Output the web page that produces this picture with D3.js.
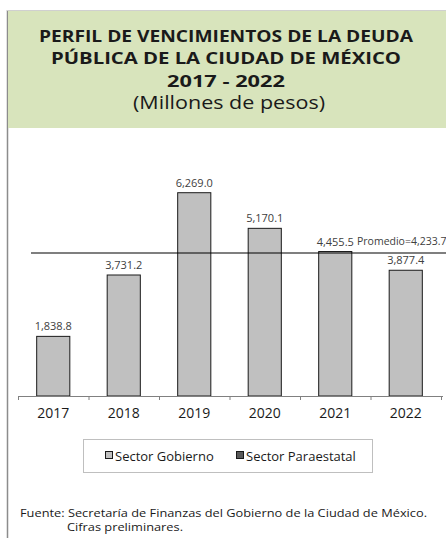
<!DOCTYPE html>
<html>
<head>
<meta charset="utf-8">
<script src="https://cdn.jsdelivr.net/npm/d3@7"></script>
<style>
  body { margin: 0; background: #fff; }
  text { font-family: "Open Sans", "Noto Sans", sans-serif; }
</style>
</head>
<body>
<script>
// datos del grafico
var years = ['2017', '2018', '2019', '2020', '2021', '2022'];
var sectorGobierno = [1838.8, 3731.2, 6269.0, 5170.1, 4455.5, 3877.4];
var promedio = [4233.7];
var promedioLinea = [4410]; // donde aparece dibujada la linea en la imagen
var titleLines = ['PERFIL DE VENCIMIENTOS DE LA DEUDA', 'PÚBLICA DE LA CIUDAD DE MÉXICO', '2017 - 2022'];
var subtitle = ['(Millones de pesos)'];
var legendItems = ['Sector Gobierno', 'Sector Paraestatal'];
var legendColors = ['#c0c0c0', '#595959'];
var footer = ['Fuente: Secretaría de Finanzas del Gobierno de la Ciudad de México.', 'Cifras preliminares.'];

var width = 446;
var height = 538;

// anchos de texto medidos en la imagen
var titleWidths = [374, 350, 118];
var titleY = [41.5, 64, 86.5];

var svg = d3.select('body').append('svg')
            .attr('width', width)
            .attr('height', height);

// marco izquierdo
svg.append('line')
   .attr('x1', 7.5).attr('x2', 7.5)
   .attr('y1', 10).attr('y2', height)
   .attr('stroke', '#8c8c8c').attr('stroke-width', 1.5);

// encabezado verde
svg.append('rect')
   .attr('x', 8).attr('y', 10)
   .attr('width', width - 8).attr('height', 118)
   .attr('fill', '#d8e4bc');
svg.append('line')
   .attr('x1', 7).attr('x2', width)
   .attr('y1', 10.5).attr('y2', 10.5)
   .attr('stroke', '#d0d0d0');

svg.selectAll('text.title')
   .data(titleLines)
   .enter().append('text')
   .attr('class', 'title')
   .attr('x', 226)
   .attr('y', function(d, i) { return titleY[i]; })
   .attr('text-anchor', 'middle')
   .attr('textLength', function(d, i) { return titleWidths[i]; })
   .attr('lengthAdjust', 'spacingAndGlyphs')
   .style('font-size', '16px')
   .style('font-weight', 'bold')
   .style('fill', '#1a1a1a')
   .text(function(d) { return d; });

svg.append('text')
   .attr('x', 229).attr('y', 109)
   .attr('text-anchor', 'middle')
   .attr('textLength', 192)
   .attr('lengthAdjust', 'spacingAndGlyphs')
   .style('font-size', '17.5px')
   .style('fill', '#1a1a1a')
   .text(subtitle[0]);

// escalas
var x = d3.scaleBand()
          .domain(years)
          .range([18, 441])
          .paddingInner(0.53)
          .paddingOuter(0.265);

var y = d3.scaleLinear()
          .domain([0, 7000])
          .range([396, 169]);

// barras
svg.selectAll('rect.bar')
   .data(sectorGobierno)
   .enter().append('rect')
   .attr('class', 'bar')
   .attr('x', function(d, i) { return x(years[i]); })
   .attr('y', function(d) { return y(d); })
   .attr('width', x.bandwidth())
   .attr('height', function(d) { return y(0) - y(d); })
   .attr('fill', legendColors[0])
   .attr('stroke', '#1a1a1a')
   .attr('stroke-width', 1);

// etiquetas de valores
svg.selectAll('text.val')
   .data(sectorGobierno)
   .enter().append('text')
   .attr('class', 'val')
   .attr('x', function(d, i) { return x(years[i]) + x.bandwidth() / 2; })
   .attr('y', function(d) { return y(d) - 6; })
   .attr('text-anchor', 'middle')
   .style('font-size', '11px')
   .style('fill', '#404040')
   .text(function(d) { return d3.format(',.1f')(d); });

// linea de promedio
svg.append('line')
   .attr('x1', 31).attr('x2', width)
   .attr('y1', y(promedioLinea[0])).attr('y2', y(promedioLinea[0]))
   .attr('stroke', '#000').attr('stroke-width', 1.2);

svg.append('text')
   .attr('x', 357).attr('y', y(promedioLinea[0]) - 8)
   .style('font-size', '10.5px')
   .style('fill', '#404040')
   .text('Promedio=' + d3.format(',.1f')(promedio[0]));

// eje x
var axisX = d3.scaleLinear().domain([0, years.length]).range([18, 441]);
var axis = svg.append('g')
   .attr('transform', 'translate(0,396)')
   .call(d3.axisBottom(axisX).ticks(years.length).tickSize(4).tickFormat(''));
axis.select('.domain').attr('stroke', '#808080').attr('d', 'M18,0.5H443');
axis.selectAll('.tick line').attr('stroke', '#808080');

svg.selectAll('text.year')
   .data(years)
   .enter().append('text')
   .attr('class', 'year')
   .attr('x', function(d) { return x(d) + x.bandwidth() / 2; })
   .attr('y', 418)
   .attr('text-anchor', 'middle')
   .style('font-size', '14px')
   .style('fill', '#1a1a1a')
   .text(function(d) { return d; });

// leyenda
svg.append('rect')
   .attr('x', 83.5).attr('y', 439.5)
   .attr('width', 289).attr('height', 33)
   .attr('fill', '#fff')
   .attr('stroke', '#bfbfbf');

var legendX = [105, 236];
var legend = svg.selectAll('g.leg')
   .data(legendItems)
   .enter().append('g')
   .attr('class', 'leg')
   .attr('transform', function(d, i) { return 'translate(' + legendX[i] + ',456)'; });
legend.append('rect')
   .attr('x', 0.5).attr('y', -4.5)
   .attr('width', 7).attr('height', 7)
   .attr('fill', function(d, i) { return legendColors[i]; })
   .attr('stroke', '#1a1a1a');
legend.append('text')
   .attr('x', 10).attr('y', 4.5)
   .style('font-size', '13px')
   .style('fill', '#1a1a1a')
   .text(function(d) { return d; });

// fuente
svg.append('text')
   .attr('x', 20).attr('y', 517)
   .attr('textLength', 407)
   .attr('lengthAdjust', 'spacingAndGlyphs')
   .style('font-size', '11.5px')
   .style('fill', '#1a1a1a')
   .text(footer[0]);
svg.append('text')
   .attr('x', 67).attr('y', 531)
   .attr('textLength', 116)
   .attr('lengthAdjust', 'spacingAndGlyphs')
   .style('font-size', '11.5px')
   .style('fill', '#1a1a1a')
   .text(footer[1]);
</script>
</body>
</html>
